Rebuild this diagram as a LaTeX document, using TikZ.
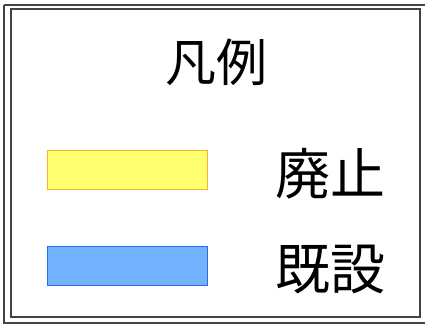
\documentclass[tikz,border=0pt]{standalone}
\usepackage{fontspec}
\usepackage{tikz}
\newfontfamily\jpfont{Noto Sans CJK JP}

\definecolor{haishiFill}{HTML}{FFFF70}
\definecolor{haishiLine}{HTML}{FFB020}
\definecolor{kisetsuFill}{HTML}{72B2FF}
\definecolor{kisetsuLine}{HTML}{1E70F0}
\definecolor{frameGray}{HTML}{444444}

\tikzset{
  swatch/.style={draw,line width=1pt,minimum width=160pt,minimum height=39pt,inner sep=0pt},
  label/.style={font=\jpfont\fontsize{51}{56}\selectfont,inner sep=0pt},
  biglabel/.style={font=\jpfont\fontsize{55}{60}\selectfont,inner sep=0pt},
}

\begin{document}
\begin{tikzpicture}[x=1pt,y=-1pt]
            \useasboundingbox (0,0) rectangle (425,326);
            \fill[white] (0,0) rectangle (425,326);

            % frames
            \draw[frameGray,line width=1.2pt] (4,5) -- (426,5);
            \draw[frameGray,line width=1.2pt] (4,5) -- (4,323) -- (426,323);
            \draw[frameGray,line width=1.2pt] (11,9) rectangle (420,317);

            \node[label] (title) at (216,62) {凡例};

            \node[swatch,fill=haishiFill,draw=haishiLine] (haishi) at (127,169.5) {};
            \node[biglabel] (haishiText) at (330,174) {廃止};

            \node[swatch,fill=kisetsuFill,draw=kisetsuLine] (kisetsu) at (127,265.5) {};
            \node[biglabel] (kisetsuText) at (330,270) {既設};

         \end{tikzpicture}
\end{document}
